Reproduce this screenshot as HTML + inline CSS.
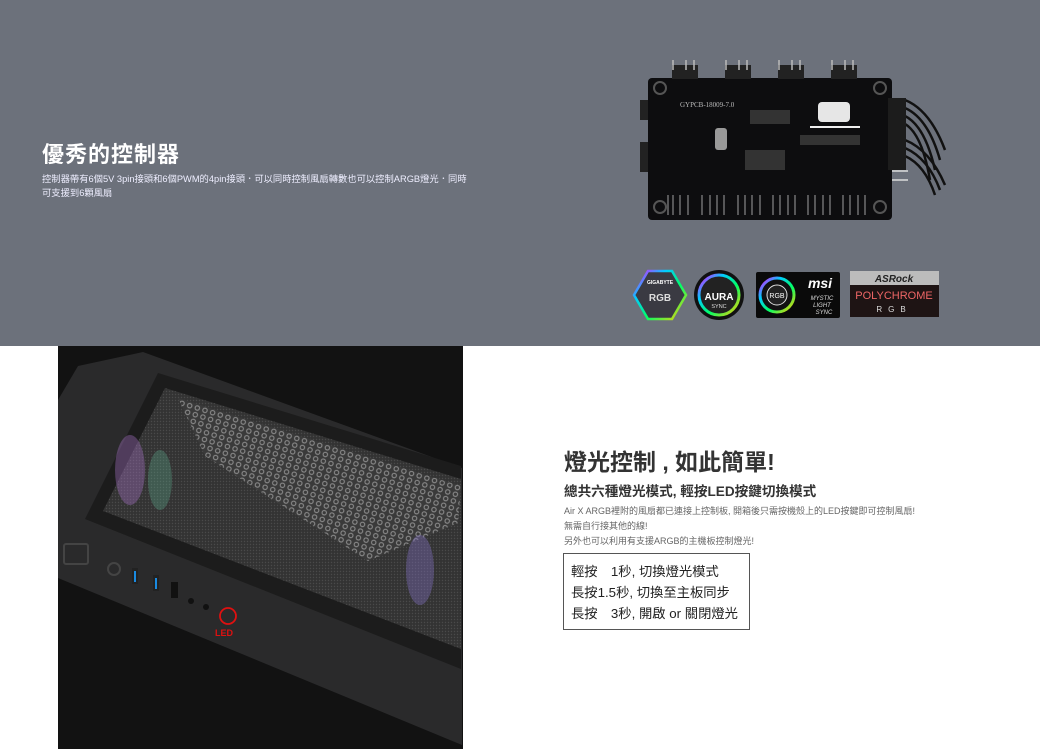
<!DOCTYPE html>
<html><head><meta charset="utf-8"><style>
body{margin:0;width:1040px;height:749px;overflow:hidden;background:#fff;font-family:"Liberation Sans","Noto Sans CJK TC",sans-serif;position:relative}
.top{position:absolute;left:0;top:0;width:1040px;height:346px;background:#6c717b}
.abs{position:absolute}
</style></head><body>
<div class="top"></div>
<div class="abs" style="left:42px;top:137px;color:#fff;font-size:22px;font-weight:bold;letter-spacing:1px">優秀的控制器</div>
<div class="abs" style="left:42px;top:172px;color:#eef;font-size:9.3px;line-height:14px;width:440px">控制器帶有6個5V 3pin接頭和6個PWM的4pin接頭．可以同時控制風扇轉數也可以控制ARGB燈光．同時<br>可支援到6顆風扇</div>

<svg class="abs" style="left:0;top:0" width="1040" height="346">
 <g stroke="#111" stroke-width="2.5" fill="none">
  <path d="M905 100 Q930 110 945 150"/><path d="M905 108 Q928 118 940 160"/><path d="M905 116 Q925 126 935 170"/><path d="M905 124 Q922 134 930 180"/>
  <path d="M905 140 Q930 150 945 185"/><path d="M905 148 Q928 158 940 190"/><path d="M905 156 Q925 165 935 195"/>
 </g>
 <rect x="640" y="100" width="10" height="20" fill="#222"/><rect x="640" y="142" width="10" height="30" fill="#222"/>
 <rect x="648" y="78" width="244" height="142" rx="4" fill="#0d0d0f"/>
 <rect x="888" y="98" width="18" height="40" fill="#1c1c1c"/><rect x="888" y="138" width="18" height="32" fill="#1c1c1c"/>
 <g fill="#222"><rect x="672" y="65" width="26" height="14"/><rect x="725" y="65" width="26" height="14"/><rect x="778" y="65" width="26" height="14"/><rect x="831" y="65" width="26" height="14"/></g>
 <g stroke="#bbb" stroke-width="1.5"><line x1="673" y1="60" x2="673" y2="70"/><line x1="686" y1="60" x2="686" y2="70"/><line x1="694" y1="60" x2="694" y2="70"/><line x1="726" y1="60" x2="726" y2="70"/><line x1="739" y1="60" x2="739" y2="70"/><line x1="747" y1="60" x2="747" y2="70"/><line x1="779" y1="60" x2="779" y2="70"/><line x1="792" y1="60" x2="792" y2="70"/><line x1="800" y1="60" x2="800" y2="70"/><line x1="832" y1="60" x2="832" y2="70"/><line x1="845" y1="60" x2="845" y2="70"/><line x1="853" y1="60" x2="853" y2="70"/></g>
 <g stroke="#888" stroke-width="1.2"><path d="M668 195v20M673 195v20M680 195v20M688 195v20M702 195v20M710 195v20M717 195v20M724 195v20M738 195v20M745 195v20M752 195v20M760 195v20M773 195v20M780 195v20M788 195v20M795 195v20M808 195v20M815 195v20M823 195v20M830 195v20M843 195v20M850 195v20M858 195v20M865 195v20"/></g>
 <g fill="none" stroke="#555" stroke-width="2"><circle cx="660" cy="88" r="6"/><circle cx="880" cy="88" r="6"/><circle cx="660" cy="207" r="6"/><circle cx="880" cy="207" r="6"/></g>
 <text x="680" y="107" fill="#bbb" font-size="7" font-family="Liberation Serif">GYPCB-18009-7.0</text>
 <rect x="818" y="102" width="32" height="20" rx="4" fill="#e6e6e6"/>
 <rect x="715" y="128" width="12" height="22" rx="3" fill="#999"/>
 <g fill="#333"><rect x="750" y="110" width="40" height="14"/><rect x="745" y="150" width="40" height="20"/><rect x="800" y="135" width="60" height="10"/></g>
 <line x1="810" y1="127" x2="860" y2="127" stroke="#eee" stroke-width="2"/>
 <line x1="892" y1="171" x2="908" y2="171" stroke="#ddd" stroke-width="1.5"/><line x1="892" y1="180" x2="908" y2="180" stroke="#ddd" stroke-width="1.5"/>
 <defs><linearGradient id="rb" x1="0" y1="0" x2="1" y2="1"><stop offset="0" stop-color="#f0f"/><stop offset=".3" stop-color="#0cf"/><stop offset=".6" stop-color="#0f6"/><stop offset="1" stop-color="#fc0"/></linearGradient></defs>
 <polygon points="648,271 672,271 686,295 672,319 648,319 634,295" fill="#3a3a42" stroke="url(#rb)" stroke-width="2.5"/>
 <text x="660" y="284" fill="#fff" font-size="5" text-anchor="middle" font-weight="bold">GIGABYTE</text>
 <text x="660" y="301" fill="#ddd" font-size="10" text-anchor="middle" font-weight="bold">RGB</text>
 <circle cx="719" cy="295" r="25" fill="#111"/><circle cx="719" cy="295" r="20" fill="#222" stroke="url(#rb)" stroke-width="3"/>
 <text x="719" y="300" fill="#fff" font-size="10" text-anchor="middle" font-weight="bold">AURA</text>
 <text x="719" y="308" fill="#ddd" font-size="5.5" text-anchor="middle">SYNC</text>
 <rect x="756" y="272" width="84" height="46" rx="2" fill="#0a0a0a"/>
 <circle cx="777" cy="295" r="17" fill="#111" stroke="url(#rb)" stroke-width="3"/><circle cx="777" cy="295" r="10" fill="#222" stroke="#ddd"/>
 <text x="777" y="298" fill="#fff" font-size="7" text-anchor="middle">RGB</text>
 <text x="820" y="288" fill="#fff" font-size="14" text-anchor="middle" font-style="italic" font-weight="bold">msi</text>
 <text x="822" y="300" fill="#ddd" font-size="6" text-anchor="middle" font-style="italic">MYSTIC</text>
 <text x="822" y="307" fill="#ddd" font-size="6" text-anchor="middle" font-style="italic">LIGHT</text>
 <text x="824" y="314" fill="#ddd" font-size="6" text-anchor="middle" font-style="italic">SYNC</text>
 <rect x="850" y="271" width="89" height="46" fill="#1e1414"/><rect x="850" y="271" width="89" height="14" fill="#bcbcbc"/>
 <text x="894" y="282" fill="#222" font-size="10" text-anchor="middle" font-weight="bold" font-style="italic">ASRock</text>
 <text x="894" y="299" fill="#e66" font-size="11" text-anchor="middle">POLYCHROME</text>
 <text x="894" y="312" fill="#ddd" font-size="8" text-anchor="middle" letter-spacing="6">RGB</text>
</svg>

<svg class="abs" style="left:58px;top:346px" width="405" height="403" viewBox="58 346 405 403">
 <defs><pattern id="hx" width="8" height="7" patternUnits="userSpaceOnUse" patternTransform="rotate(17)"><circle cx="4" cy="3.5" r="2.2" fill="none" stroke="#8a8a8a" stroke-width="1.1"/></pattern>
 <pattern id="fm" width="3" height="3" patternUnits="userSpaceOnUse"><circle cx="1.5" cy="1.5" r=".7" fill="#4a4a4a"/></pattern></defs>
 <rect x="58" y="346" width="405" height="403" fill="#121212"/>
 <polygon points="58,400 78,366 143,352 462,468 462,745 58,578" fill="#2a2a2b"/>
 <polygon points="158,373 461,466 461,669 85,519" fill="#1c1c1c"/>
 <polygon points="165,388 461,479 461,649 103,511" fill="#333"/>
 <polygon points="165,388 461,479 461,649 103,511" fill="url(#fm)"/>
 <polygon points="178,398 461,486 458,523 368,561 205,456" fill="#3a3a3a"/>
 <polygon points="178,398 461,486 458,523 368,561 205,456" fill="url(#hx)"/>
 <g opacity=".8"><ellipse cx="130" cy="470" rx="15" ry="35" fill="#a070c0" opacity=".5"/><ellipse cx="160" cy="480" rx="12" ry="30" fill="#60b090" opacity=".4"/><ellipse cx="420" cy="570" rx="14" ry="35" fill="#8070c0" opacity=".5"/></g>
 <rect x="64" y="544" width="24" height="20" rx="2" fill="none" stroke="#444" stroke-width="2"/>
 <circle cx="114" cy="569" r="6" fill="none" stroke="#444" stroke-width="2"/>
 <rect x="132" y="568" width="6" height="16" fill="#222"/><line x1="135" y1="571" x2="135" y2="582" stroke="#1a8ae0" stroke-width="2"/>
 <rect x="153" y="575" width="6" height="16" fill="#222"/><line x1="156" y1="578" x2="156" y2="589" stroke="#1a8ae0" stroke-width="2"/>
 <rect x="171" y="582" width="7" height="16" fill="#111"/>
 <circle cx="191" cy="601" r="3" fill="#111"/><circle cx="206" cy="607" r="3" fill="#111"/>
 <circle cx="228" cy="616" r="8" fill="none" stroke="#e01010" stroke-width="1.8"/>
 <text x="215" y="636" fill="#e01010" font-size="9" font-weight="bold">LED</text>
</svg>

<div class="abs" style="left:564px;top:443px;font-size:23px;font-weight:bold;color:#333">燈光控制 , 如此簡單!</div>
<div class="abs" style="left:564px;top:480px;font-size:13.6px;font-weight:bold;color:#333">總共六種燈光模式, 輕按LED按鍵切換模式</div>
<div class="abs" style="left:564px;top:504px;font-size:9px;line-height:15px;color:#666;white-space:nowrap">Air X ARGB裡附的風扇都已連接上控制板, 開箱後只需按機殼上的LED按鍵即可控制風扇!<br>無需自行接其他的線!<br>另外也可以利用有支援ARGB的主機板控制燈光!</div>
<div class="abs" style="left:563px;top:553px;width:185px;height:75px;border:1.5px solid #555"></div>
<div class="abs" style="left:571px;top:561px;font-size:13.3px;line-height:21px;color:#222">輕按　1秒, 切換燈光模式<br>長按1.5秒, 切換至主板同步<br>長按　3秒, 開啟 or 關閉燈光</div>
</body></html>
